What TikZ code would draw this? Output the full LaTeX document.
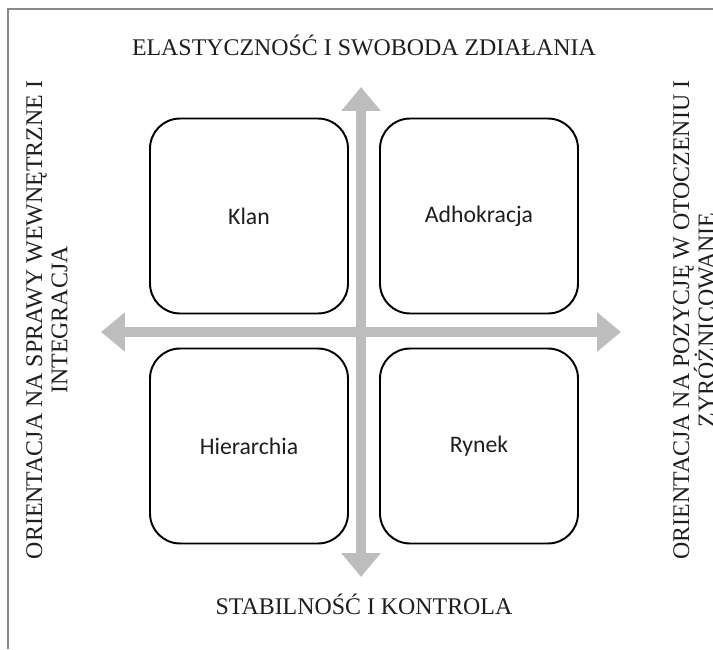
\documentclass[tikz,border=0pt]{standalone}
\usepackage{fontspec}
\setmainfont{Liberation Serif}
\newfontfamily\boxfont{Carlito}
\usepackage{tikz}
\usetikzlibrary{arrows.meta}
\definecolor{axisgray}{HTML}{BDBDBD}
\definecolor{framegray}{HTML}{8A8A8A}
\definecolor{inkgray}{HTML}{1E1E1E}

\begin{document}
\begin{tikzpicture}[x=0.02cm,y=-0.02cm,
    quad/.style={draw=black,line width=1.1pt,rounded corners=0.6cm,minimum width=3.96cm,minimum height=3.9cm,font=\boxfont\fontsize{13.5}{16}\selectfont,text=inkgray},
    side/.style={font=\fontsize{13.6}{14.4}\selectfont,text=inkgray,align=center},
    axis/.style={draw=axisgray,line width=0.2cm,{Triangle[width=0.76cm,length=0.48cm]}-{Triangle[width=0.76cm,length=0.48cm]}}]
        \useasboundingbox (0,0) rectangle (713,649);
        \clip (0,0) rectangle (713,649);
        \draw[framegray,line width=1.2pt] (8,649) -- (8,9) -- (713,9);

        \coordinate (n) at (361,87);
        \coordinate (s) at (361,577);
        \coordinate (w) at (101,332);
        \coordinate (e) at (621,332);
        \draw[axis] (s) -- (n);
        \draw[axis] (w) -- (e);

        \node[quad] (klan) at (249,216) {Klan};
        \node[quad] (adho) at (479,216) {Adhokracja};
        \node[quad] (hier) at (249,446) {Hierarchia};
        \node[quad] (rynek) at (479,446) {Rynek};

        \node[side] (top) at (364,45) {ELASTYCZNOŚĆ I SWOBODA ZDIAŁANIA};
        \node[side] (bottom) at (364,604) {STABILNOŚĆ I KONTROLA};
        \node[side,rotate=90] (left) at (47,320) {ORIENTACJA NA SPRAWY WEWNĘTRZNE I\\INTEGRACJA};
        \node[side,rotate=90] (right) at (694,320) {ORIENTACJA NA POZYCJĘ W OTOCZENIU I\\ZYRÓŻNICOWANIE};
\end{tikzpicture}
\end{document}
